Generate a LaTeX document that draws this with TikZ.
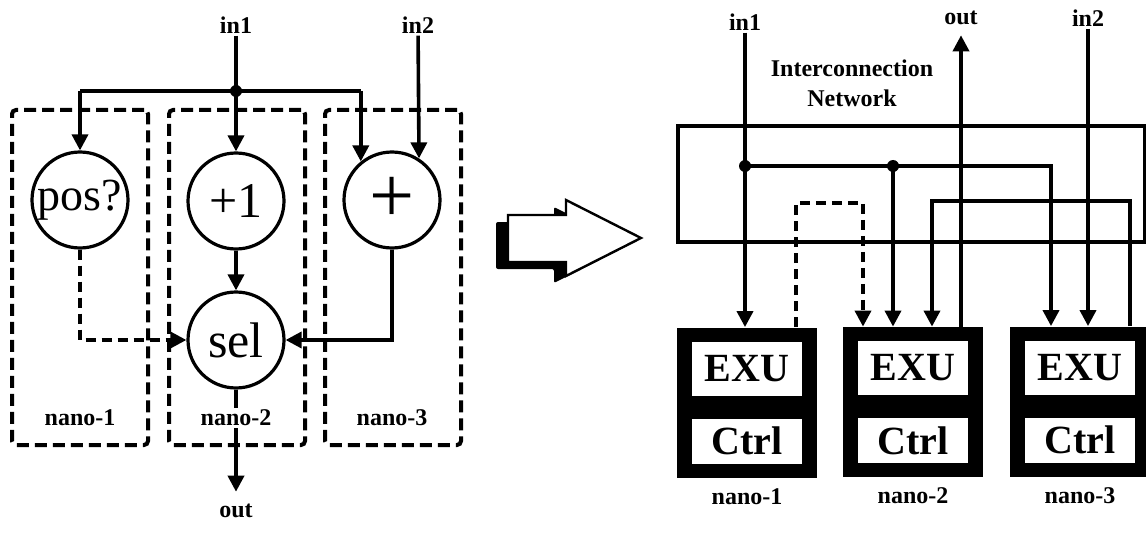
\documentclass[tikz,border=0pt]{standalone}
\usepackage{fontspec}
\setmainfont{Liberation Serif}
\usetikzlibrary{arrows.meta,positioning}

\begin{document}
\begin{tikzpicture}[
    x=0.5pt, y=-0.5pt,
    lbl/.style={font=\bfseries\fontsize{12}{15}\selectfont, inner sep=1pt},
    op/.style={circle, draw, line width=1.6pt, fill=white, minimum size=48pt, inner sep=0pt, font=\fontsize{25}{27}\selectfont},
    zone/.style={draw, line width=2pt, dash pattern=on 6pt off 3pt, rounded corners=2pt, minimum width=68pt, minimum height=167.5pt},
    wire/.style={line width=1.8pt},
    arr/.style={wire, -{Triangle[length=8pt, width=8pt]}},
    dwire/.style={arr, dash pattern=on 5pt off 3pt},
    dot/.style={circle, fill=black, inner sep=0pt, minimum size=6pt},
    unit/.style={rectangle, fill=black, minimum width=70pt, minimum height=75pt, inner sep=0pt},
    part/.style={rectangle, fill=white, minimum width=55pt, inner sep=0pt, font=\bfseries\fontsize{20}{22}\selectfont},
    exu/.style={part, minimum height=27pt},
    ctrl/.style={part, minimum height=22.5pt}
  ]
  \useasboundingbox (0,0) rectangle (1146,540);

  % dataflow graph split over three nanoprocessors
  \node[zone] (z1) at (80,277.5) {};
  \node[zone] (z2) at (237,277.5) {};
  \node[zone] (z3) at (393,277.5) {};

  \node[lbl] (li1) at (236,25) {in1};
  \node[lbl] (li2) at (418,25) {in2};
  \node[op, font=\fontsize{23}{25}\selectfont] (pos) at (80,200) {pos?};
  \node[op] (inc) at (236,201) {+1};
  \node[op, font=\fontsize{40}{42}\selectfont] (plus) at (392,200) {+};
  \node[op] (sel) at (236,340) {sel};
  \node[lbl] (lout) at (236,511) {out};
  \node[dot] (j1) at (236,91) {};

  \draw[arr] (li1) -- (inc);
  \draw[wire] (pos.north |- j1) -- (plus.129 |- j1);
  \draw[arr] (pos.north |- j1) -- (pos);
  \draw[arr] (plus.129 |- j1) -- (plus.129);
  \draw[arr] (li2) -- (plus.57);
  \draw[arr] (inc) -- (sel);
  \draw[dwire] (pos) |- (sel);
  \draw[arr] (plus) |- (sel);
  \draw[arr, shorten >=5pt] (sel) -- (lout);

  \node[lbl] (zl1) at (80,418) {nano-1};
  \node[lbl, fill=white] (zl2) at (236,418) {nano-2};
  \node[lbl] (zl3) at (392,418) {nano-3};

  % mapping arrow
  \fill[xshift=-6pt, yshift=-3.5pt, rounded corners=1pt] (508,215) -- (566,215) -- (566,200) -- (641,238) -- (566,276) -- (566,262) -- (508,262) -- cycle;
  \draw[line width=1.2pt, fill=white] (508,215) -- (566,215) -- (566,200) -- (641,238) -- (566,276) -- (566,262) -- (508,262) -- cycle;

  % nanoprocessors on the network
  \node[lbl, align=center] (net) at (852,83) {Interconnection\\Network};
  \node[draw, wire, minimum width=233.5pt, minimum height=58pt] (netbox) at (911.5,184) {};

  \node[unit] (n1) at (747,402.5) {};
  \node[exu, below=7pt of n1.north] (e1) {EXU};
  \node[ctrl, above=7pt of n1.south] (c1) {Ctrl};
  \node[lbl, below=4pt of n1] (l1) {nano-1};

  \node[unit] (n2) at (913,402) {};
  \node[exu, below=7pt of n2.north] (e2) {EXU};
  \node[ctrl, above=7pt of n2.south] (c2) {Ctrl};
  \node[lbl, below=4pt of n2] (l2) {nano-2};

  \node[unit] (n3) at (1080,401.5) {};
  \node[exu, below=7pt of n3.north] (e3) {EXU};
  \node[ctrl, above=7pt of n3.south] (c3) {Ctrl};
  \node[lbl, below=4pt of n3] (l3) {nano-3};

  \node[lbl] (ri1) at (745,22) {in1};
  \node[lbl] (ri2) at (1088,18) {in2};
  \node[lbl] (ro) at (961,18) {out};
  \node[dot] (dr1) at (745,166) {};
  \node[dot] (dr2) at (893,166) {};

  \draw[arr] (ri1) -- (ri1 |- n1.north);
  \draw[arr] (dr1.center) -| ([xshift=-14.5pt]n3.north);
  \draw[arr] (dr2.center) -- (dr2 |- n2.north);
  \draw[dwire] ([xshift=24.5pt]n1.north) |- (863,203) -- ([xshift=-25pt]n2.north);
  \draw[arr] ([xshift=25pt]n3.north) |- (932,201) -- ([xshift=9.5pt]n2.north);
  \draw[arr] (ri2) -- (ri2 |- n3.north);
  \draw[arr, shorten >=4pt] ([xshift=24pt]n2.north) -- (ro);
\end{tikzpicture}
\end{document}
